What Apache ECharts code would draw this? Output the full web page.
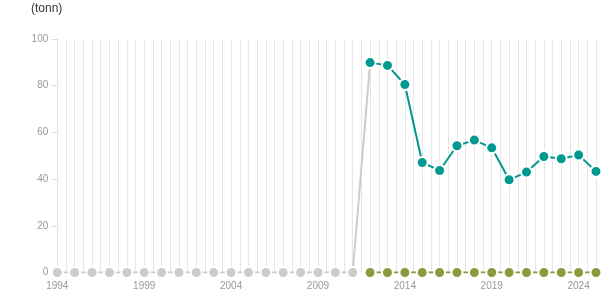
<!DOCTYPE html>
<html>
<head>
<meta charset="utf-8">
<script src="https://cdn.jsdelivr.net/npm/echarts@6/dist/echarts.min.js"></script>
<style>html,body{margin:0;padding:0;background:#fff}#c{width:615px;height:305px}</style>
</head>
<body>
<div id="c"></div>
<script>
var unitLabel = '(tonn)';
var grayYears = [1994,1995,1996,1997,1998,1999,2000,2001,2002,2003,2004,2005,2006,2007,2008,2009,2010,2011,2012];
var grayValues = [0,0,0,0,0,0,0,0,0,0,0,0,0,0,0,0,0,0,89.9];
var tealYears = [2012,2013,2014,2015,2016,2017,2018,2019,2020,2021,2022,2023,2024,2025];
var tealValues = [89.9,88.7,80.5,47.1,43.7,54.3,56.7,53.4,39.7,43.0,49.7,48.7,50.3,43.3];
var oliveYears = [2012,2013,2014,2015,2016,2017,2018,2019,2020,2021,2022,2023,2024,2025];
var oliveValues = [0,0,0,0,0,0,0,0,0,0,0,0,0,0];
var yTicks = [0,20,40,60,80,100];
var xLabelStart = 1994, xLabelStep = 5;

function pairs(xs, ys){ return xs.map(function(x,i){ return [x, ys[i]]; }); }

var chart = echarts.init(document.getElementById('c'), null, {renderer:'canvas'});
var font = 'Liberation Sans, Arial, sans-serif';
function seriesOf(xs, ys, color, z){
  return {
    type:'line', data: pairs(xs, ys), z: z,
    symbol:'circle', symbolSize: 11, showSymbol: true,
    lineStyle:{color: color, width: 2},
    itemStyle:{color: color, borderColor:'#fff', borderWidth: 2},
    emphasis:{disabled:true}, animation:false
  };
}
chart.setOption({
  animation:false,
  title:{text: unitLabel, left: 26, top: -2, textStyle:{fontSize:12, fontWeight:'normal', color:'#333', fontFamily: font}},
  grid:{left:57.3, right:19, top:39, bottom:32.5, containLabel:false},
  xAxis:{
    type:'value', min: 1994, max: 2025, interval: 0.5,
    axisLine:{show:false}, axisTick:{show:false},
    splitLine:{show:true, lineStyle:{color:'#e6e6e6', width:1}},
    axisLabel:{
      color:'#999', fontSize:10, fontFamily: font, margin: 9,
      formatter:function(v){ return (v % 1 === 0 && (v - xLabelStart) % xLabelStep === 0) ? String(v) : ''; }
    }
  },
  yAxis:{
    type:'value', min: yTicks[0], max: yTicks[yTicks.length-1], interval: yTicks[1]-yTicks[0],
    axisLine:{show:false},
    axisTick:{show:true, length:6, lineStyle:{color:'#ddd'}},
    splitLine:{show:false},
    axisLabel:{color:'#999', fontSize:10, fontFamily: font, margin: 9}
  },
  series:[
    seriesOf(grayYears, grayValues, '#cccccc', 2),
    seriesOf(oliveYears, oliveValues, '#8a9a3d', 3),
    seriesOf(tealYears, tealValues, '#00998f', 4)
  ]
});
</script>
</body>
</html>
